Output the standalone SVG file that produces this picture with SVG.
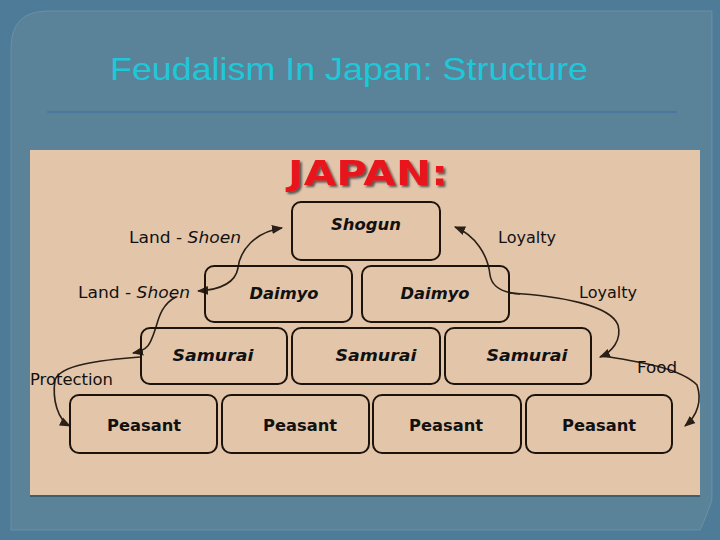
<svg xmlns="http://www.w3.org/2000/svg" width="720" height="540" viewBox="0 0 720 540">
<defs>
<style>
.node{fill:none;stroke:#1c140c;stroke-width:2}
.nt{font-family:"DejaVu Sans",sans-serif;font-weight:bold;font-size:16px;fill:#111;text-anchor:middle}
.it{font-style:italic}
.lb{font-family:"DejaVu Sans",sans-serif;font-size:16px;fill:#111}
.cn{fill:none;stroke:#2a2018;stroke-width:1.6}
</style>
<filter id="sh" x="-10%" y="-10%" width="130%" height="140%">
<feDropShadow dx="2" dy="2" stdDeviation="0.8" flood-color="#4a4a4a" flood-opacity="0.9"/>
</filter>
<marker id="ah" viewBox="0 0 10 10" refX="9" refY="5" markerWidth="7" markerHeight="7" orient="auto-start-reverse">
<path d="M0,1 L10,5 L0,9 Z" fill="#2a2018"/>
</marker>
</defs>
<rect x="0" y="0" width="720" height="540" fill="#4e7b97"/>
<path d="M48,11 L712,11 L712,500 Q705,520 700,530 L11,530 L11,48 Q11,11 48,11 Z" fill="#5a8399" stroke="#6f96ab" stroke-width="0.8"/>
<text x="110" y="80" font-family="'Liberation Sans',Arial,sans-serif" font-size="32" fill="#1ec8d8" textLength="478" lengthAdjust="spacingAndGlyphs">Feudalism In Japan: Structure</text>
<line x1="47" y1="112" x2="677" y2="112" stroke="#3a6ea2" stroke-width="1.2"/>
<rect x="30" y="150" width="670" height="346" fill="#e3c5aa"/>
<line x1="30" y1="496" x2="700" y2="496" stroke="#3d5d70" stroke-width="2"/>
<g id="title-japan">
<text x="288" y="185" filter="url(#sh)" font-family="'DejaVu Sans',sans-serif" font-weight="bold" font-size="34" fill="#e8181c" textLength="160" lengthAdjust="spacingAndGlyphs">JAPAN:</text>
</g>
<g id="connectors">
<path class="cn" marker-start="url(#ah)" marker-end="url(#ah)" d="M282,228 C255,232 240,250 238,268 C235,285 215,290 198,291"/>
<path class="cn" marker-end="url(#ah)" d="M176,297 C160,305 158,322 155,330 C150,345 148,350 133,353"/>
<path class="cn" marker-end="url(#ah)" d="M140,357 C100,360 60,365 55,380 C52,400 58,420 70,426"/>
<path class="cn" marker-start="url(#ah)" d="M455,227 C475,235 488,255 490,275 C492,288 505,293 520,294"/>
<path class="cn" marker-end="url(#ah)" d="M510,293 C560,296 610,305 618,325 C622,340 612,352 600,357"/>
<path class="cn" marker-end="url(#ah)" d="M603,356 C640,362 680,368 697,385 C702,400 698,415 685,426"/>
</g>
<g id="shogun"><rect class="node" x="292" y="202" width="148" height="58" rx="9"/><text class="nt it" x="366" y="230" textLength="70" lengthAdjust="spacingAndGlyphs">Shogun</text></g>
<g id="daimyo-1"><rect class="node" x="205" y="266" width="147" height="56" rx="9"/><text class="nt it" x="284" y="299" textLength="69" lengthAdjust="spacingAndGlyphs">Daimyo</text></g>
<g id="daimyo-2"><rect class="node" x="362" y="266" width="147" height="56" rx="9"/><text class="nt it" x="435" y="299" textLength="69" lengthAdjust="spacingAndGlyphs">Daimyo</text></g>
<g id="samurai-1"><rect class="node" x="141" y="328" width="146" height="56" rx="9"/><text class="nt it" x="213" y="361" textLength="81" lengthAdjust="spacingAndGlyphs">Samurai</text></g>
<g id="samurai-2"><rect class="node" x="292" y="328" width="148" height="56" rx="9"/><text class="nt it" x="376" y="361" textLength="81" lengthAdjust="spacingAndGlyphs">Samurai</text></g>
<g id="samurai-3"><rect class="node" x="445" y="328" width="146" height="56" rx="9"/><text class="nt it" x="527" y="361" textLength="81" lengthAdjust="spacingAndGlyphs">Samurai</text></g>
<g id="peasant-1"><rect class="node" x="70" y="395" width="147" height="58" rx="9"/><text class="nt" x="144" y="431" textLength="74" lengthAdjust="spacingAndGlyphs">Peasant</text></g>
<g id="peasant-2"><rect class="node" x="222" y="395" width="147" height="58" rx="9"/><text class="nt" x="300" y="431" textLength="74" lengthAdjust="spacingAndGlyphs">Peasant</text></g>
<g id="peasant-3"><rect class="node" x="373" y="395" width="148" height="58" rx="9"/><text class="nt" x="446" y="431" textLength="74" lengthAdjust="spacingAndGlyphs">Peasant</text></g>
<g id="peasant-4"><rect class="node" x="526" y="395" width="146" height="58" rx="9"/><text class="nt" x="599" y="431" textLength="74" lengthAdjust="spacingAndGlyphs">Peasant</text></g>
<g id="labels">
<text class="lb" x="129" y="243" textLength="112" lengthAdjust="spacingAndGlyphs">Land - <tspan font-style="italic">Shoen</tspan></text>
<text class="lb" x="78" y="298" textLength="112" lengthAdjust="spacingAndGlyphs">Land - <tspan font-style="italic">Shoen</tspan></text>
<text class="lb" x="498" y="243" textLength="58" lengthAdjust="spacingAndGlyphs">Loyalty</text>
<text class="lb" x="579" y="298" textLength="58" lengthAdjust="spacingAndGlyphs">Loyalty</text>
<text class="lb" x="30" y="385" textLength="83" lengthAdjust="spacingAndGlyphs">Protection</text>
<text class="lb" x="637" y="373" textLength="40" lengthAdjust="spacingAndGlyphs">Food</text>
</g>
</svg>
